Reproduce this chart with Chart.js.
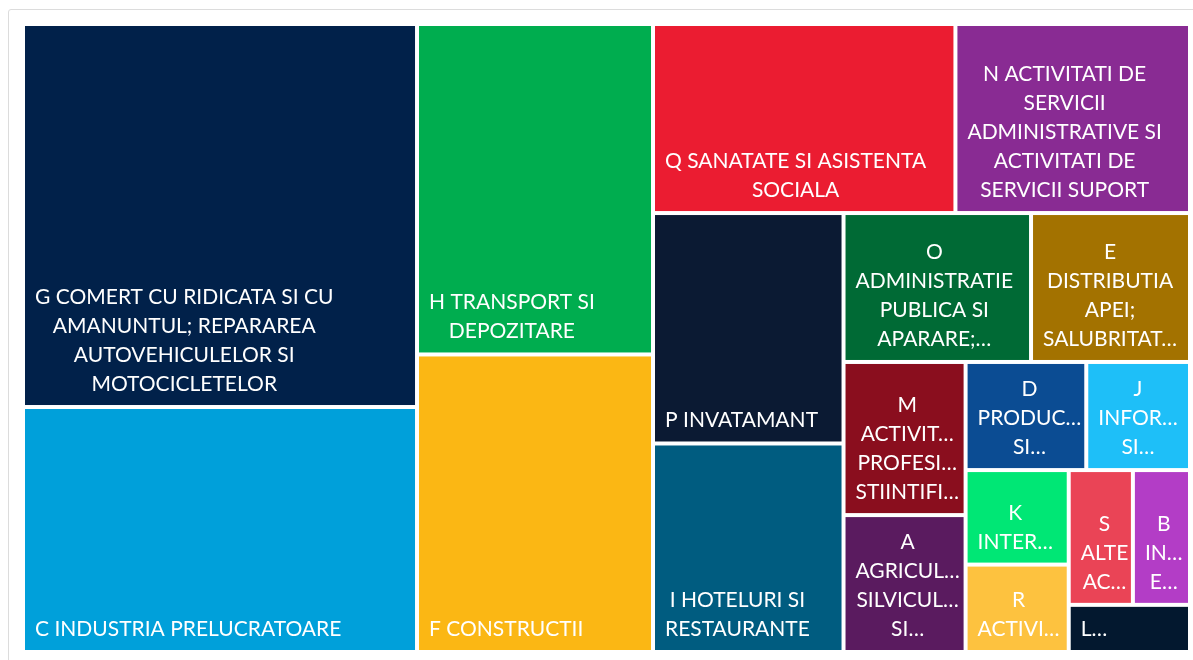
<!DOCTYPE html>
<html lang="ro">
<head>
<meta charset="utf-8">
<title>Treemap sectoare CAEN</title>
<script src="https://cdn.jsdelivr.net/npm/chart.js@4.4.1/dist/chart.umd.min.js"></script>
<style>
    body { margin: 0; background: #fff; }
    .frame {
        position: absolute; left: 8px; top: 9px; width: 1200px; height: 700px;
        border: 1px solid #dcdcdc; border-radius: 3px;
    }
    #treeChart { position: absolute; left: 0; top: 0; }
</style>
</head>
<body>
<div class="frame"></div>
<canvas id="treeChart" width="1193" height="660"></canvas>
<script>
// sectiuni CAEN (ordine descrescatoare, cum apar in grafic)
let sectors = [
    'G COMERT CU RIDICATA SI CU AMANUNTUL; REPARAREA AUTOVEHICULELOR SI MOTOCICLETELOR',
    'C INDUSTRIA PRELUCRATOARE',
    'H TRANSPORT SI DEPOZITARE',
    'F CONSTRUCTII',
    'Q SANATATE SI ASISTENTA SOCIALA',
    'N ACTIVITATI DE SERVICII ADMINISTRATIVE SI ACTIVITATI DE SERVICII SUPORT',
    'P INVATAMANT',
    'I HOTELURI SI RESTAURANTE',
    'O ADMINISTRATIE PUBLICA SI APARARE; ASIGURARI SOCIALE DIN SISTEMUL PUBLIC',
    'E DISTRIBUTIA APEI; SALUBRITATE, GESTIONAREA DESEURILOR, ACTIVITATI DE DECONTAMINARE',
    'M ACTIVITATI PROFESIONALE, STIINTIFICE SI TEHNICE',
    'A AGRICULTURA, SILVICULTURA SI PESCUIT',
    'D PRODUCTIA SI FURNIZAREA DE ENERGIE ELECTRICA SI TERMICA, GAZE, APA CALDA SI AER CONDITIONAT',
    'J INFORMATII SI COMUNICATII',
    'K INTERMEDIERI FINANCIARE SI ASIGURARI',
    'R ACTIVITATI DE SPECTACOLE, CULTURALE SI RECREATIVE',
    'S ALTE ACTIVITATI DE SERVICII',
    'B INDUSTRIA EXTRACTIVA',
    'L TRANZACTII IMOBILIARE'
];

// ponderi (%) citite din suprafata fiecarui dreptunghi
let shares = [20.59, 13.17, 10.64, 9.58, 7.80, 6.05, 5.99, 5.42, 3.81, 3.23,
              2.55, 2.28, 1.78, 1.53, 1.33, 1.23, 1.18, 1.05, 0.78];

let colors = [
    '#01214a', '#00a0da', '#00ad4f', '#fbb714', '#eb1c31', '#892b93', '#0b1a33',
    '#005c80', '#006a35', '#a37200', '#8a0e1e', '#5a1b5f', '#0b4c93', '#1ebff8',
    '#00e775', '#fdc23f', '#ea4456', '#b33dc6', '#03182f'
];

// raport de aspect maxim pentru un rand
function worst(row, side) {
    let s = row.reduce((a, b) => a + b, 0);
    let w = 0;
    for (let i = 0; i < row.length; i++) {
        let r = (side * side * row[i]) / (s * s);
        w = Math.max(w, r, 1 / r);
    }
    return w;
}

// squarified, minim doua elemente pe rand
function squarify(values, width, height) {
    let order = values.map((v, i) => i).sort((a, b) => values[b] - values[a]);
    let total = values.reduce((a, b) => a + b, 0);
    let k = width * height / total;
    let rect = { x: 0, y: 0, w: width, h: height };
    let out = [];
    let i = 0;
    while (i < order.length) {
        let side = Math.min(rect.w, rect.h);
        let row = [order[i]];
        i++;
        while (i < order.length) {
            let cur = row.map(j => values[j] * k);
            let next = cur.concat(values[order[i]] * k);
            if (row.length >= 2 && worst(next, side) > worst(cur, side)) break;
            row.push(order[i]);
            i++;
        }
        let s = row.reduce((a, j) => a + values[j] * k, 0);
        let thick = s / side;
        if (rect.w >= rect.h) {
            let y = rect.y;
            row.forEach(j => {
                let h = values[j] * k / thick;
                out[j] = { x: rect.x, y: y, w: thick, h: h };
                y += h;
            });
            rect.x += thick; rect.w -= thick;
        } else {
            let x = rect.x;
            row.forEach(j => {
                let w = values[j] * k / thick;
                out[j] = { x: x, y: rect.y, w: w, h: thick };
                x += w;
            });
            rect.y += thick; rect.h -= thick;
        }
    }
    return out;
}

function truncate(ctx, word, maxW) {
    let s = word;
    while (s.length > 0 && ctx.measureText(s + '…').width > maxW) s = s.slice(0, -1);
    return s + '…';
}

// impartire text in randuri, ca la etichetele din Excel
// lineW: latime pentru randuri cu mai multe cuvinte, wordW: pentru un cuvant singur
function wrapLabel(ctx, text, lineW, wordW, maxLines) {
    let words = text.split(' ');
    let lines = [];
    let cur = '';
    words.forEach(word => {
        let cand = cur ? cur + ' ' + word : word;
        if (ctx.measureText(cand).width <= lineW) {
            cur = cand;
            return;
        }
        if (cur) lines.push(cur);
        if (ctx.measureText(word).width > wordW) {
            lines.push(truncate(ctx, word, wordW));
            cur = '';
        } else {
            cur = word;
        }
    });
    if (cur) lines.push(cur);
    if (lines.length > maxLines) {
        lines = lines.slice(0, maxLines);
        let last = lines[maxLines - 1];
        if (!last.endsWith('…')) {
            if (ctx.measureText(last + '…').width <= wordW) lines[maxLines - 1] = last + '…';
            else lines[maxLines - 1] = truncate(ctx, last, wordW);
        }
    }
    return lines;
}

const LINE_H = 29;
const GAP = 2;

let treemapPlugin = {
    id: 'treemapCells',
    afterDatasetsDraw(chart) {
        let ctx = chart.ctx;
        let xs = chart.scales.x;
        let ys = chart.scales.y;
        let W = Math.abs(xs.getPixelForValue(100) - xs.getPixelForValue(0));
        let H = Math.abs(ys.getPixelForValue(100) - ys.getPixelForValue(0));
        let cells = squarify(shares, W, H);

        ctx.save();
        ctx.font = '21px Lato';
        ctx.textBaseline = 'alphabetic';
        ctx.textAlign = 'center';
        for (let i = 0; i < cells.length; i++) {
            let c = cells[i];
            // din unitati de layout in valori de axa, apoi in pixeli
            let x0 = xs.getPixelForValue(c.x / W * 100) + GAP;
            let x1 = xs.getPixelForValue((c.x + c.w) / W * 100) - GAP;
            let y0 = ys.getPixelForValue(c.y / H * 100) + GAP;
            let y1 = ys.getPixelForValue((c.y + c.h) / H * 100) - GAP;
            ctx.fillStyle = colors[i];
            ctx.fillRect(x0, y0, x1 - x0, y1 - y0);

            let w = x1 - x0, h = y1 - y0;
            let maxLines = Math.max(1, Math.floor((h - 16) / LINE_H));
            let lines = wrapLabel(ctx, sectors[i], w - 16, w - 12, maxLines);
            let blockW = Math.max(...lines.map(l => ctx.measureText(l).width));
            let cx = x0 + 10 + blockW / 2;
            ctx.fillStyle = '#ffffff';
            for (let j = 0; j < lines.length; j++) {
                let by = y1 - 14 - (lines.length - 1 - j) * LINE_H;
                ctx.fillText(lines[j], cx, by);
            }
        }
        ctx.restore();
    }
};

let treeChart = document.getElementById('treeChart').getContext('2d');

new Chart(treeChart, {
    type: 'scatter',
    data: {
        datasets: [{
            label: 'Ponderi',
            data: [],
            pointRadius: 0
        }]
    },
    options: {
        responsive: false,
        animation: false,
        layout: {
            padding: { left: 23, top: 24, right: 3, bottom: 8 }
        },
        scales: {
            x: { type: 'linear', min: 0, max: 100, display: false },
            y: { type: 'linear', min: 0, max: 100, reverse: true, display: false }
        },
        plugins: {
            legend: { display: false },
            tooltip: { enabled: false }
        }
    },
    plugins: [treemapPlugin]
});
</script>
</body>
</html>
